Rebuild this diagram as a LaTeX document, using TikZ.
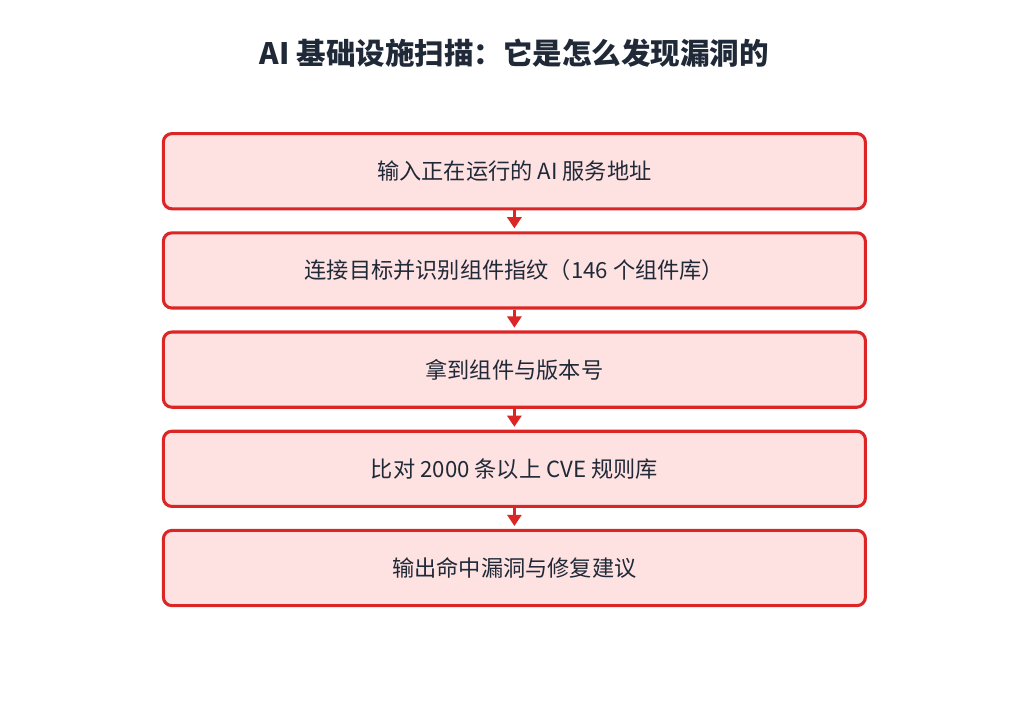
\documentclass[tikz,border=0pt]{standalone}
\usepackage{fontspec}
\setmainfont{Noto Sans CJK SC}
\usetikzlibrary{positioning}
\usetikzlibrary{arrows.meta}
\definecolor{boxred}{HTML}{DC2626}
\definecolor{boxfill}{HTML}{FEE2E2}
\definecolor{textdark}{HTML}{1F2937}
\tikzset{node distance=2.48cm,
    every node/.style={text=textdark},
    stepbox/.style={
        draw=boxred,
        fill=boxfill,
        line width=2.2pt,
        rounded corners=6pt,
        minimum width=17.55cm,
        minimum height=1.88cm,
        font=\fontsize{15.8}{18}\selectfont},
    every edge/.style={
        draw=boxred,
        ->,>={Triangle[length=8pt,width=10pt]},
        line width=2.2pt,
        shorten >=2pt}}
\begin{document}
\begin{tikzpicture}
        \useasboundingbox (0,0) rectangle (25.725,-17.625);
        \node[font=\fontsize{21}{24}\selectfont\bfseries] (title) at (12.86,-1.32) {AI 基础设施扫描：它是怎么发现漏洞的};
        \node[stepbox] (s1) at (12.86,-4.28) {输入正在运行的 AI 服务地址};
        \node[stepbox, below of=s1] (s2) {连接目标并识别组件指纹（146 个组件库）};
        \node[stepbox, below of=s2] (s3) {拿到组件与版本号};
        \node[stepbox, below of=s3] (s4) {比对 2000 条以上 CVE 规则库};
        \node[stepbox, below of=s4] (s5) {输出命中漏洞与修复建议};
        \draw (s1) edge (s2);
        \draw (s2) edge (s3);
        \draw (s3) edge (s4);
        \draw (s4) edge (s5);
    \end{tikzpicture}
\end{document}
